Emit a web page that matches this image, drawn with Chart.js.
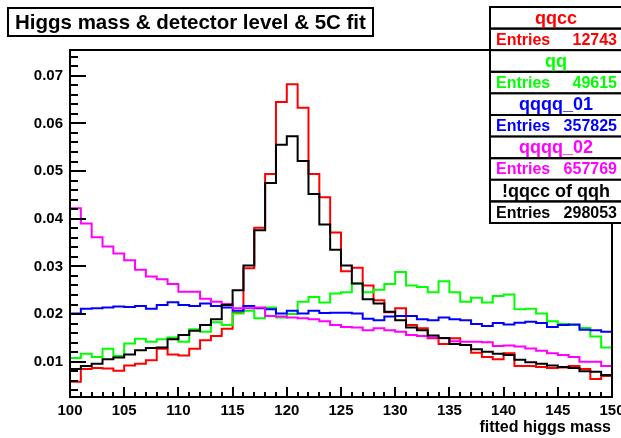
<!DOCTYPE html>
<html>
<head>
<meta charset="utf-8">
<script src="https://cdn.jsdelivr.net/npm/chart.js@4.4.1/dist/chart.umd.min.js"></script>
<style>
  html, body { margin: 0; padding: 0; background: #fff; }
  canvas { display: block; }
</style>
</head>
<body>
<canvas id="higgsChart" width="621" height="438"></canvas>
<script>
// 50 bins of 1 GeV, 100..150
const xMin = 100;
const binWidth = 1;

// normalised bin contents
const qqcc = [0.0058, 0.0085, 0.0087, 0.0086, 0.0081, 0.0092, 0.0096, 0.0103, 0.0127, 0.0115,
  0.0113, 0.0127, 0.0145, 0.0154, 0.0169, 0.0203, 0.0296, 0.0381, 0.0494, 0.0645,
  0.0682, 0.0633, 0.0494, 0.0445, 0.0371, 0.0290, 0.0297, 0.0260, 0.0229, 0.0204,
  0.0212, 0.0177, 0.0170, 0.0149, 0.0137, 0.0149, 0.0135, 0.0119, 0.0110, 0.0105,
  0.0118, 0.0091, 0.0091, 0.0089, 0.0087, 0.0088, 0.0091, 0.0085, 0.0064, 0.0070];
const qq = [0.0108, 0.0117, 0.0110, 0.0127, 0.0112, 0.0138, 0.0148, 0.0142, 0.0147, 0.0151,
  0.0142, 0.0168, 0.0163, 0.0183, 0.0177, 0.0201, 0.0207, 0.0191, 0.0214, 0.0193,
  0.0200, 0.0226, 0.0236, 0.0224, 0.0243, 0.0246, 0.0264, 0.0246, 0.0251, 0.0263,
  0.0288, 0.0260, 0.0257, 0.0246, 0.0269, 0.0246, 0.0226, 0.0234, 0.0224, 0.0238,
  0.0241, 0.0210, 0.0211, 0.0201, 0.0185, 0.0179, 0.0177, 0.0171, 0.0153, 0.0130];
const qqqq01 = [0.0201, 0.0211, 0.0212, 0.0214, 0.0216, 0.0215, 0.0217, 0.0211, 0.0219, 0.0225,
  0.0219, 0.0217, 0.0222, 0.0217, 0.0214, 0.0207, 0.0217, 0.0212, 0.0210, 0.0201,
  0.0207, 0.0201, 0.0207, 0.0202, 0.0203, 0.0203, 0.0201, 0.0190, 0.0187, 0.0195,
  0.0196, 0.0196, 0.0189, 0.0187, 0.0193, 0.0189, 0.0187, 0.0179, 0.0175, 0.0181,
  0.0178, 0.0182, 0.0184, 0.0181, 0.0173, 0.0177, 0.0178, 0.0167, 0.0166, 0.0163];
const qqqq02 = [0.0422, 0.0390, 0.0361, 0.0342, 0.0327, 0.0313, 0.0293, 0.0279, 0.0273, 0.0263,
  0.0247, 0.0247, 0.0232, 0.0226, 0.0221, 0.0212, 0.0212, 0.0214, 0.0196, 0.0195,
  0.0193, 0.0191, 0.0189, 0.0185, 0.0177, 0.0173, 0.0172, 0.0166, 0.0170, 0.0166,
  0.0163, 0.0156, 0.0154, 0.0151, 0.0149, 0.0143, 0.0142, 0.0142, 0.0141, 0.0133,
  0.0134, 0.0132, 0.0128, 0.0123, 0.0118, 0.0114, 0.0110, 0.0100, 0.0100, 0.0091];
const notQqcc = [0.0085, 0.0091, 0.0096, 0.0105, 0.0109, 0.0115, 0.0124, 0.0129, 0.0130, 0.0147,
  0.0156, 0.0165, 0.0177, 0.0189, 0.0219, 0.0250, 0.0302, 0.0376, 0.0475, 0.0555,
  0.0573, 0.0521, 0.0452, 0.0388, 0.0335, 0.0302, 0.0264, 0.0231, 0.0222, 0.0205,
  0.0187, 0.0172, 0.0166, 0.0155, 0.0150, 0.0137, 0.0135, 0.0126, 0.0121, 0.0117,
  0.0114, 0.0104, 0.0099, 0.0096, 0.0092, 0.0089, 0.0087, 0.0080, 0.0079, 0.0072];

const seriesNames = ["qqcc", "qq", "qqqq_01", "qqqq_02", "!qqcc of qqh"];
const seriesEntries = [12743, 49615, 357825, 657769, 298053];
const seriesColors = ["#ff0000", "#00ff00", "#0000ff", "#ff00ff", "#000000"];

const xTickLabels = [100, 105, 110, 115, 120, 125, 130, 135, 140, 145, 150];
const yTickLabels = [0.01, 0.02, 0.03, 0.04, 0.05, 0.06, 0.07];

const FONT = '"Liberation Sans", Arial, Helvetica, sans-serif';

// histogram -> step points on bin edges
function stepData(values) {
  const pts = values.map((v, i) => ({ x: xMin + i * binWidth, y: v }));
  pts.push({ x: xMin + values.length * binWidth, y: values[values.length - 1] });
  return pts;
}

const allSeries = [qqcc, qq, qqqq01, qqqq02, notQqcc];

// ROOT-like frame, inner ticks, title box and stat boxes
const rootDecor = {
  id: "rootDecor",
  afterDraw(chart) {
    const { ctx, chartArea: a, scales } = chart;
    const x = scales.x, y = scales.y;
    ctx.save();
    ctx.strokeStyle = "#000";
    ctx.lineWidth = 2;

    // y ticks (major 0.01, minor 0.002)
    ctx.beginPath();
    for (let i = Math.ceil(y.min / 0.002); i * 0.002 <= y.max; i++) {
      const v = i * 0.002;
      const py = Math.round(y.getPixelForValue(v));
      const len = i % 5 === 0 ? 16 : 8;
      ctx.moveTo(a.left, py);
      ctx.lineTo(a.left + len, py);
    }
    // x ticks (major 5, minor 1)
    for (let v = x.min; v <= x.max; v++) {
      const px = Math.round(x.getPixelForValue(v));
      const len = v % 5 === 0 ? 10 : 5;
      ctx.moveTo(px, a.bottom);
      ctx.lineTo(px, a.bottom - len);
    }
    ctx.stroke();
    ctx.strokeRect(a.left, a.top, a.right - a.left, a.bottom - a.top);

    // title box
    ctx.fillStyle = "#fff";
    ctx.fillRect(8, 8, 365, 28);
    ctx.strokeRect(8, 8, 365, 28);
    ctx.fillStyle = "#000";
    ctx.font = "bold 20.5px " + FONT;
    ctx.textBaseline = "middle";
    ctx.textAlign = "left";
    ctx.fillText("Higgs mass & detector level & 5C fit", 15, 23);

    // x axis title
    ctx.font = "bold 16px " + FONT;
    ctx.textAlign = "right";
    ctx.fillText("fitted higgs mass", 611, 428);

    // stat boxes
    const bx = 490, bw = 134, top = 7, rowH = 21.6;
    seriesNames.forEach((name, i) => {
      const y0 = top + i * 2 * rowH;
      ctx.fillStyle = "#fff";
      ctx.fillRect(bx, y0, bw, 2 * rowH);
      ctx.strokeRect(bx, y0, bw, rowH);
      ctx.strokeRect(bx, y0 + rowH, bw, rowH);
      ctx.fillStyle = seriesColors[i];
      ctx.font = "bold 18px " + FONT;
      ctx.textAlign = "center";
      ctx.fillText(name, 556, y0 + rowH / 2 + 1);
      ctx.font = "bold 16px " + FONT;
      ctx.textAlign = "left";
      ctx.fillText("Entries", 496, y0 + rowH * 1.5 + 1);
      ctx.textAlign = "right";
      ctx.fillText(String(seriesEntries[i]), 617, y0 + rowH * 1.5 + 1);
    });
    ctx.restore();
  },
};

const ctx = document.getElementById("higgsChart").getContext("2d");

new Chart(ctx, {
  type: "line",
  data: {
    datasets: allSeries.map((vals, i) => ({
      label: seriesNames[i],
      data: stepData(vals),
      borderColor: seriesColors[i],
      borderWidth: 2,
      stepped: true,
      pointRadius: 0,
      fill: false,
      order: allSeries.length - i,
    })),
  },
  options: {
    responsive: false,
    animation: false,
    layout: { padding: { top: 50, right: 9, left: 0, bottom: 0 } },
    plugins: {
      legend: { display: false },
      tooltip: { enabled: false },
    },
    scales: {
      x: {
        type: "linear",
        min: 100,
        max: 150,
        afterBuildTicks: (scale) => {
          scale.ticks = xTickLabels.map((v) => ({ value: v }));
        },
        afterFit: (scale) => {
          scale.height = 41;
          scale.paddingLeft = 0;
          scale.paddingRight = 0;
        },
        grid: { display: false, drawTicks: false },
        border: { display: false },
        ticks: {
          autoSkip: false,
          maxRotation: 0,
          padding: 5,
          color: "#000",
          font: { family: FONT, size: 15, weight: "bold" },
          callback: (v) => String(v),
        },
      },
      y: {
        type: "linear",
        min: 0.0026,
        max: 0.0754,
        afterBuildTicks: (scale) => {
          scale.ticks = yTickLabels.map((v) => ({ value: v }));
        },
        afterFit: (scale) => {
          scale.width = 70;
        },
        grid: { display: false, drawTicks: false },
        border: { display: false },
        ticks: {
          autoSkip: false,
          padding: 7,
          color: "#000",
          font: { family: FONT, size: 15, weight: "bold" },
          callback: (v) => v.toFixed(2),
        },
      },
    },
  },
  plugins: [rootDecor],
});
</script>
</body>
</html>
